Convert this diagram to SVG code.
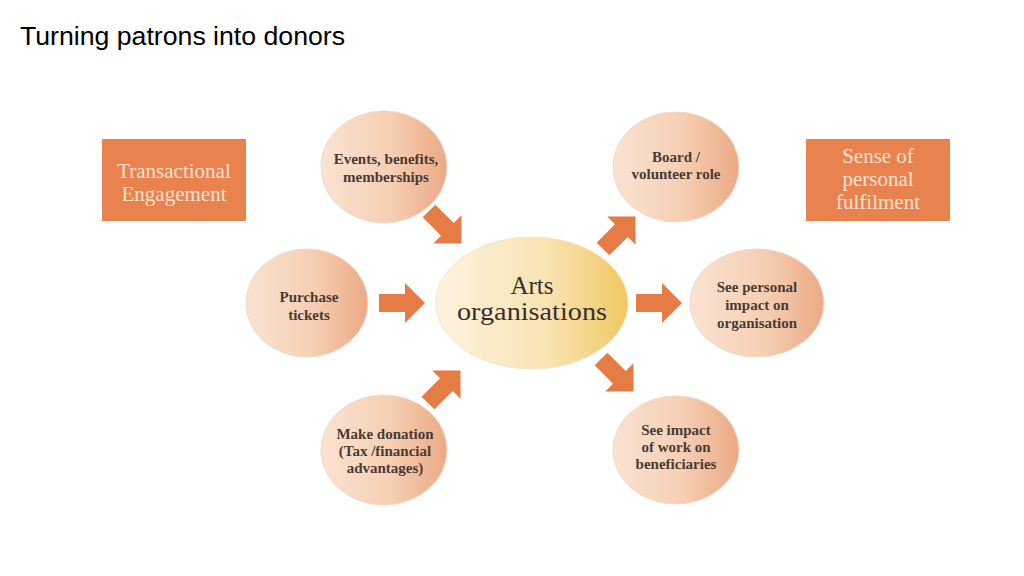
<svg xmlns="http://www.w3.org/2000/svg" width="1024" height="576" viewBox="0 0 1024 576">
<defs>
<linearGradient id="peach" x1="0" y1="0" x2="1" y2="0">
<stop offset="0" stop-color="#FAE3D2"/>
<stop offset="0.55" stop-color="#F6CFB3"/>
<stop offset="1" stop-color="#EBA985"/>
</linearGradient>
<linearGradient id="cream" x1="0" y1="0" x2="1" y2="0">
<stop offset="0" stop-color="#FCF3E0"/>
<stop offset="0.6" stop-color="#F8E2B0"/>
<stop offset="1" stop-color="#F0C862"/>
</linearGradient>
<path id="arr" d="M0,-9 L26,-9 L26,-20 L46,0 L26,20 L26,9 L0,9 Z"/>
</defs>
<style>
.box{fill:#E8834F}
.bt{font-family:"Liberation Serif",serif;font-size:21px;fill:#FBE1CF;text-anchor:middle}
.bub{fill:url(#peach);stroke:#F3D8C6;stroke-width:1}
.nt{font-family:"Liberation Serif",serif;font-size:15px;font-weight:bold;fill:#4A3A34;text-anchor:middle}
.ct{font-family:"Liberation Serif",serif;font-size:25px;fill:#3A302A;text-anchor:middle}
.ar{fill:#E57B45}
</style>
<rect width="1024" height="576" fill="#FFFFFF"/>
<text x="20" y="45" font-family="'Liberation Sans',sans-serif" font-size="25" textLength="325" lengthAdjust="spacingAndGlyphs" fill="#000">Turning patrons into donors</text>

<g id="transactional">
<rect class="box" x="102" y="139" width="144" height="82"/>
<text class="bt" x="174" y="178">Transactional</text>
<text class="bt" x="174" y="201">Engagement</text>
</g>
<g id="fulfilment">
<rect class="box" x="806" y="139" width="144" height="82"/>
<text class="bt" x="878" y="163">Sense of</text>
<text class="bt" x="878" y="186">personal</text>
<text class="bt" x="878" y="209">fulfilment</text>
</g>

<g id="events">
<ellipse class="bub" cx="384" cy="167" rx="63" ry="56"/>
<text class="nt" x="386" y="164">Events, benefits,</text>
<text class="nt" x="386" y="182">memberships</text>
</g>
<g id="purchase">
<ellipse class="bub" cx="307" cy="303" rx="61" ry="54"/>
<text class="nt" x="309" y="302">Purchase</text>
<text class="nt" x="309" y="320">tickets</text>
</g>
<g id="donation">
<ellipse class="bub" cx="384" cy="450" rx="63" ry="55"/>
<text class="nt" x="385" y="439">Make donation</text>
<text class="nt" x="385" y="456">(Tax /financial</text>
<text class="nt" x="385" y="473">advantages)</text>
</g>
<g id="arts">
<ellipse cx="532" cy="303" rx="96" ry="66" fill="url(#cream)" stroke="#F6E6C6" stroke-width="1"/>
<text class="ct" x="532" y="294">Arts</text>
<text class="ct" x="532" y="320" textLength="150" lengthAdjust="spacingAndGlyphs">organisations</text>
</g>
<g id="board">
<ellipse class="bub" cx="676" cy="167" rx="63" ry="55"/>
<text class="nt" x="676" y="162">Board /</text>
<text class="nt" x="676" y="179">volunteer role</text>
</g>
<g id="personal">
<ellipse class="bub" cx="757" cy="303" rx="67" ry="54"/>
<text class="nt" x="757" y="292">See personal</text>
<text class="nt" x="757" y="310">impact on</text>
<text class="nt" x="757" y="328">organisation</text>
</g>
<g id="impact">
<ellipse class="bub" cx="676" cy="450" rx="63" ry="54"/>
<text class="nt" x="676" y="435">See impact</text>
<text class="nt" x="676" y="452">of work on</text>
<text class="nt" x="676" y="469">beneficiaries</text>
</g>

<g id="connectors" class="ar">
<use href="#arr" transform="translate(429,211) rotate(45)"/>
<use href="#arr" transform="translate(379,303)"/>
<use href="#arr" transform="translate(428,403) rotate(-45)"/>
<use href="#arr" transform="translate(603,249) rotate(-45)"/>
<use href="#arr" transform="translate(636,303)"/>
<use href="#arr" transform="translate(601,359) rotate(45)"/>
</g>
</svg>
